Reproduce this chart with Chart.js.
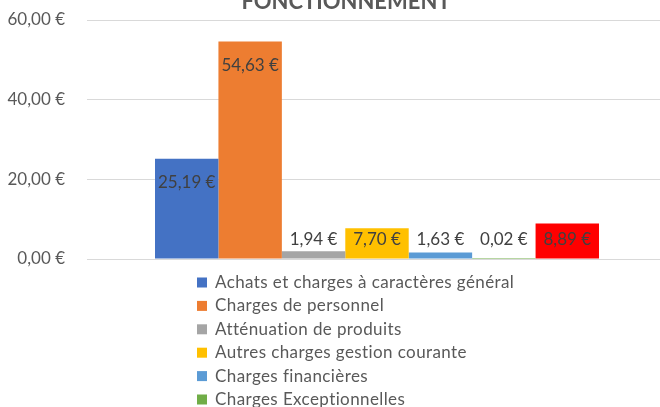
<!DOCTYPE html>
<html>
<head>
<meta charset="utf-8">
<script src="https://cdn.jsdelivr.net/npm/chart.js@4"></script>
<style>
  html, body { margin: 0; padding: 0; background: #ffffff; overflow: hidden; width: 660px; height: 407px; }
  #wrap { position: absolute; left: 0; top: -20px; width: 692px; height: 447px; }
</style>
</head>
<body>
<div id="wrap"><canvas id="c" width="692" height="447"></canvas></div>
<script>
const titleText = 'FONCTIONNEMENT';
const categories = ['Fonctionnement'];
const seriesLabels = [
  'Achats et charges à caractères général',
  'Charges de personnel',
  'Atténuation de produits',
  'Autres charges gestion courante',
  'Charges financières',
  'Charges Exceptionnelles',
  'Dotations aux amortissements'
];
const seriesValues = [25.19, 54.63, 1.94, 7.70, 1.63, 0.02, 8.89];
const seriesColors = ['#4472C4', '#ED7D31', '#A5A5A5', '#FFC000', '#5B9BD5', '#70AD47', '#FF0000'];
const yMin = 0, yMax = 60, yStep = 20;

function euro(v) { return v.toFixed(2).replace('.', ',') + ' €'; }

const FONT = 'Lato, "Open Sans", sans-serif';

const dataLabels = {
  id: 'dataLabels',
  afterDatasetsDraw(chart) {
    const ctx = chart.ctx;
    ctx.save();
    ctx.font = '17px ' + FONT;
    ctx.fillStyle = '#404040';
    ctx.textAlign = 'center';
    ctx.textBaseline = 'middle';
    chart.data.datasets.forEach((ds, i) => {
      const meta = chart.getDatasetMeta(i);
      meta.data.forEach((el, j) => {
        const y = Math.min(el.y + 24, el.base - 19);
        ctx.fillText(euro(ds.data[j]), el.x, y);
      });
    });
    ctx.restore();
  }
};

const listLegend = {
  id: 'listLegend',
  afterDraw(chart) {
    const ctx = chart.ctx;
    ctx.save();
    ctx.font = '17px ' + FONT;
    try { ctx.letterSpacing = '0.4px'; } catch (e) {}
    ctx.textAlign = 'left';
    ctx.textBaseline = 'middle';
    const x0 = 197, y0 = chart.chartArea.bottom + 23.5, dy = 23.4;
    chart.data.datasets.forEach((ds, i) => {
      const yc = y0 + i * dy;
      ctx.fillStyle = ds.backgroundColor;
      ctx.fillRect(x0, yc - 5, 10, 10);
      ctx.fillStyle = '#595959';
      ctx.fillText(ds.label, x0 + 18, yc);
    });
    ctx.restore();
  }
};

new Chart(document.getElementById('c'), {
  type: 'bar',
  data: {
    labels: categories,
    datasets: seriesLabels.map((l, i) => ({
      label: l,
      data: [seriesValues[i]],
      backgroundColor: seriesColors[i],
      borderWidth: 0
    }))
  },
  options: {
    responsive: false,
    animation: false,
    devicePixelRatio: 1,
    categoryPercentage: 0.7655,
    barPercentage: 1,
    layout: { padding: { left: 0, right: 0, top: 0, bottom: 168 } },
    plugins: {
      legend: { display: false },
      tooltip: { enabled: false },
      title: {
        display: true,
        text: titleText,
        color: '#595959',
        font: { family: FONT, size: 22, weight: 'bold' },
        padding: { top: 9, bottom: 4.6 }
      }
    },
    scales: {
      x: { display: false },
      y: {
        min: yMin, max: yMax,
        afterFit(scale) { scale.width = 87; },
        border: { display: false },
        grid: { color: '#D9D9D9', lineWidth: 1, drawTicks: false },
        ticks: {
          stepSize: yStep,
          padding: 22,
          color: '#595959',
          font: { family: FONT, size: 17 },
          callback: (v) => euro(v)
        }
      },
      yRight: {
        position: 'right',
        min: yMin, max: yMax,
        afterFit(scale) { scale.width = 25; },
        border: { display: false },
        grid: { display: false },
        ticks: { display: false }
      }
    }
  },
  plugins: [dataLabels, listLegend]
});
</script>
</body>
</html>
